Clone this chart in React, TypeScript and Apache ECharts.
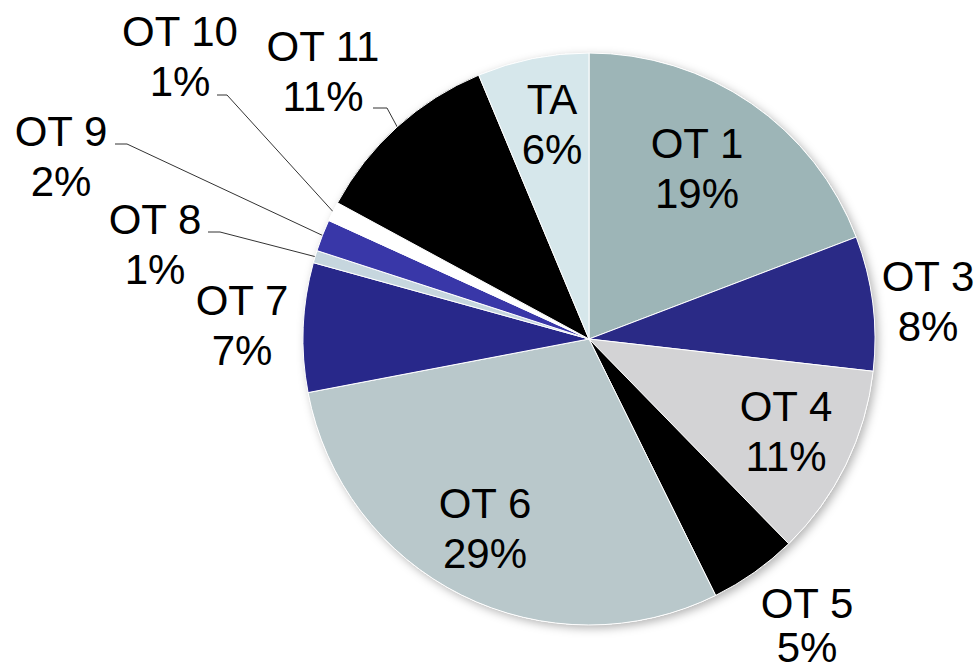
import { useEffect, useRef } from 'react';
import * as echarts from 'echarts';

const categories = ['OT 1', 'OT 3', 'OT 4', 'OT 5', 'OT 6', 'OT 7', 'OT 8', 'OT 9', 'OT 10', 'OT 11', 'TA'];
const shares = [19.2, 7.6, 10.9, 5.0, 29.3, 7.3, 0.7, 1.8, 1.1, 10.8, 6.3];
const sliceColors = ['#9DB5B7', '#2A2A86', '#D3D3D5', '#000000', '#B9C8CB', '#28288A', '#C6D6DE', '#3937A8', '#FFFFFF', '#000000', '#D6E7EB'];
const leaderLabels = ['OT 8', 'OT 9', 'OT 10', 'OT 11'];

type Placement = { x: number; y: number; lineHeight?: number; elbow?: [number, number]; endX?: number };
const labelPlacement: Record<string, Placement> = {
  'OT 1': { x: 697, y: 168 },
  'OT 3': { x: 928, y: 301 },
  'OT 4': { x: 786, y: 431 },
  'OT 5': { x: 807, y: 625, lineHeight: 44 },
  'OT 6': { x: 485, y: 528 },
  'OT 7': { x: 242, y: 325 },
  'OT 8': { x: 155, y: 244, elbow: [220, 232], endX: 208 },
  'OT 9': { x: 61, y: 156, elbow: [127, 144], endX: 115 },
  'OT 10': { x: 180, y: 56, elbow: [227, 95], endX: 217 },
  'OT 11': { x: 323, y: 71, elbow: [387, 108], endX: 373 },
  TA: { x: 552, y: 124 },
};

export default function App() {
  const ref = useRef<HTMLDivElement>(null);
  useEffect(() => {
    if (!ref.current) return;
    const chart = echarts.init(ref.current, undefined, { renderer: 'svg' });
    const center = [589, 339];
    const radius = 286;
    chart.setOption({
      animation: false,
      backgroundColor: '#ffffff',
      series: [
        {
          type: 'pie',
          silent: true,
          center,
          radius,
          z: 1,
          label: { show: false },
          labelLine: { show: false },
          itemStyle: {
            color: '#ffffff',
            shadowBlur: 10,
            shadowOffsetX: 3,
            shadowOffsetY: 3,
            shadowColor: 'rgba(0,0,0,0.3)',
          },
          data: [{ value: 1, name: 'base' }],
        },
        {
          type: 'pie',
          center,
          radius,
          z: 2,
          startAngle: 90,
          clockwise: true,
          avoidLabelOverlap: false,
          itemStyle: { borderColor: '#ffffff', borderWidth: 1 },
          label: {
            show: true,
            position: 'outside',
            color: '#000000',
            fontSize: 42,
            lineHeight: 50,
            fontFamily: '"Liberation Sans", Arial, sans-serif',
            formatter: (p: any) => `${p.name}\n${Math.round(p.percent)}%`,
          },
          labelLine: {
            show: false,
            length: 10,
            length2: 10,
            lineStyle: { color: '#333333', width: 1 },
          },
          labelLayout: (params: any) => {
            const name = categories[params.dataIndex];
            const p = labelPlacement[name];
            if (!p) return {};
            const out: any = { x: p.x, y: p.y, align: 'center', verticalAlign: 'middle' };
            if (p.elbow && p.endX != null) {
              const start = params.labelLinePoints && params.labelLinePoints[0] ? params.labelLinePoints[0] : p.elbow;
              out.labelLinePoints = [start, p.elbow, [p.endX, p.elbow[1]]];
            }
            return out;
          },
          data: categories.map((name, i) => {
            const p = labelPlacement[name];
            return {
              name,
              value: shares[i],
              itemStyle: { color: sliceColors[i] },
              labelLine: { show: leaderLabels.includes(name) },
              ...(p && p.lineHeight ? { label: { lineHeight: p.lineHeight } } : {}),
            };
          }),
        },
      ],
    });
    return () => chart.dispose();
  }, []);
  return <div ref={ref} style={{ position: 'fixed', left: 0, top: 0, width: 980, height: 670 }} />;
}
